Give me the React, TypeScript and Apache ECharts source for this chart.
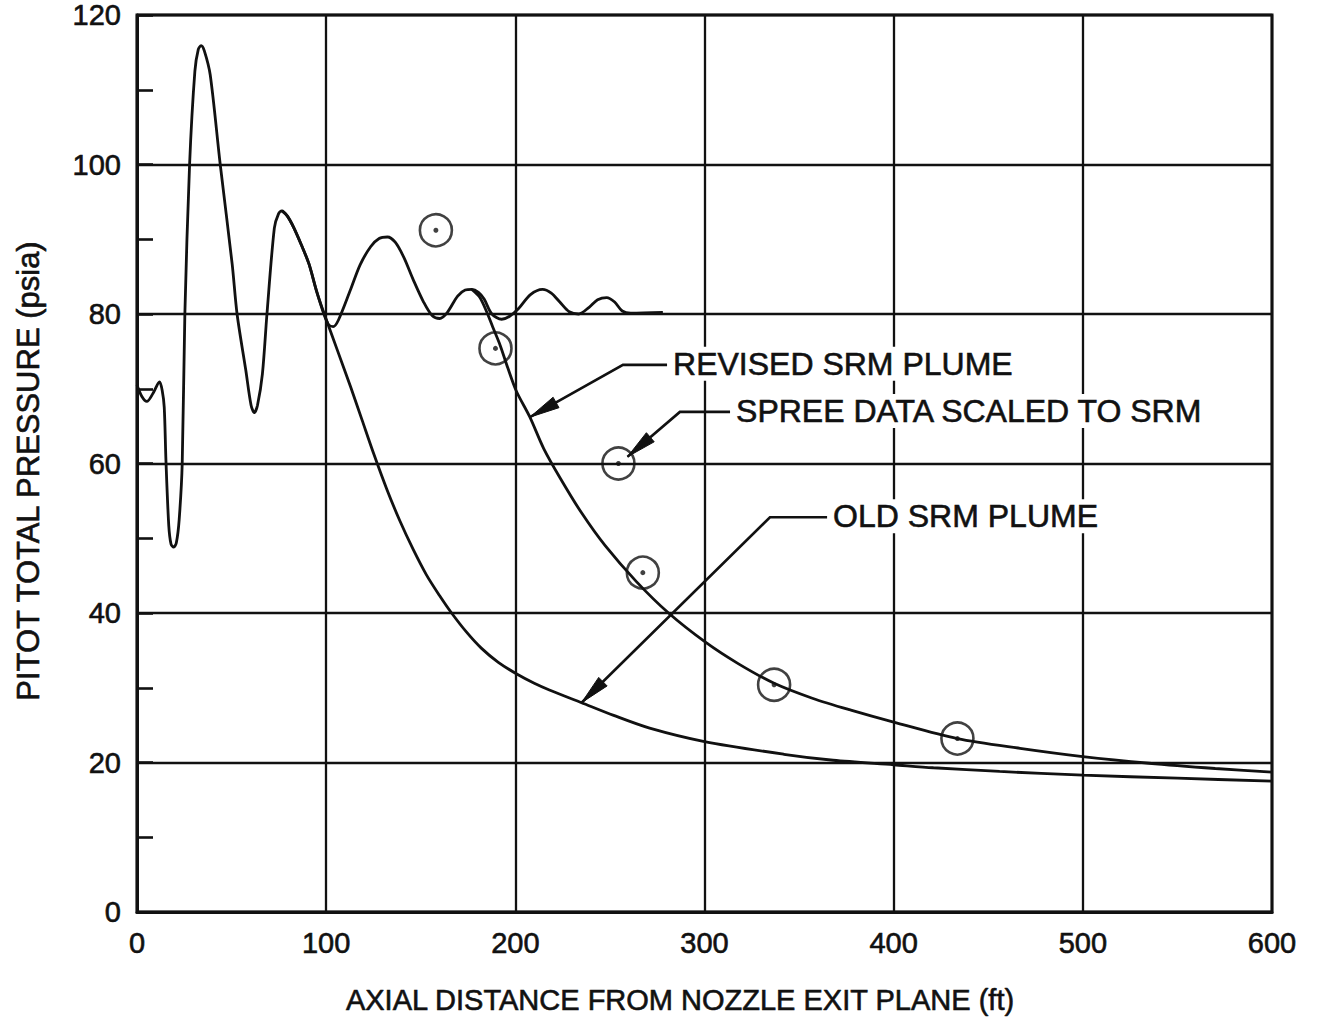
import React, { useEffect, useRef } from "react";
import * as echarts from "echarts";

// ---- Data ----
const X_TICKS = [0, 100, 200, 300, 400, 500, 600];
const Y_TICKS = [0, 20, 40, 60, 80, 100, 120];

const X_TITLE = "AXIAL DISTANCE FROM NOZZLE EXIT PLANE (ft)";
const Y_TITLE = "PITOT TOTAL PRESSURE (psia)";

// near-field oscillating solution (common start, continues wavy to ~280 ft)
const NEAR_FIELD_WAVE: [number, number][] = [
  [0, 70.5], [2.5, 69.0], [5.2, 68.3], [8.5, 69.4], [11.9, 70.9], [13.3, 69.8], [14.4, 67.5],
  [15.3, 60.4], [16.8, 51.7], [18.0, 49.2], [19.4, 48.8], [20.8, 49.4], [22.3, 52.5], [23.9, 60.0],
  [25.3, 80.0], [27.8, 100.0], [30.6, 112.5], [32.4, 115.4], [33.9, 115.9], [35.6, 115.2],
  [38.7, 112.0], [44.0, 100.0], [50.3, 86.7], [52.9, 80.0], [57.5, 72.5], [60.3, 67.8], [62.0, 66.8],
  [63.7, 67.8], [66.3, 72.0], [68.7, 80.0], [72.6, 91.5], [74.8, 93.4], [76.6, 93.8], [79.5, 93.1],
  [82.8, 91.6], [86.8, 89.3], [90.9, 86.7], [95.0, 83.0], [98.8, 80.0], [101.2, 78.6], [103.7, 78.3],
  [106.5, 79.2], [112.8, 83.2], [118.0, 86.6], [123.5, 89.0], [128.0, 90.1], [132.4, 90.3],
  [136.5, 89.6], [141.0, 87.6], [146.0, 84.6], [151.5, 81.6], [156.0, 79.8], [160.0, 79.4],
  [164.0, 80.2], [169.5, 82.4], [173.5, 83.2], [177.0, 83.3], [180.5, 82.9], [183.5, 82.0],
  [187.6, 80.0], [192.8, 79.3], [197.0, 79.7], [201.6, 80.7], [208.0, 82.6], [214.4, 83.3],
  [219.0, 82.8], [223.5, 81.6], [228.5, 80.3], [233.5, 80.0], [239.0, 80.9], [243.5, 81.9],
  [248.3, 82.2], [252.5, 81.6], [256.5, 80.4], [261.0, 80.1], [278.0, 80.2],
];

const OLD_SRM_PLUME: [number, number][] = [
  [76.6, 93.8], [79.5, 93.1], [82.8, 91.6], [86.8, 89.3], [90.9, 86.7], [95.0, 83.0], [99.0, 80.0],
  [106.0, 75.1], [113.0, 70.2], [119.0, 65.8], [125.0, 61.4], [132.0, 56.6], [139.0, 52.3],
  [146.0, 48.5], [153.0, 45.1], [160.0, 42.3], [166.0, 40.1], [174.0, 37.5], [182.0, 35.3],
  [191.0, 33.4], [201.0, 31.8], [210.0, 30.6], [218.0, 29.7], [235.0, 28.0], [252.0, 26.3],
  [271.0, 24.6], [300.0, 22.8], [342.0, 21.1], [368.0, 20.3], [400.0, 19.7], [421.0, 19.3],
  [456.0, 18.8], [500.0, 18.3], [550.0, 17.9], [600.0, 17.5],
];

const REVISED_SRM_PLUME: [number, number][] = [
  [177.0, 83.3], [181.0, 82.3], [184.5, 80.5], [188.0, 78.3], [192.0, 75.8], [196.0, 72.8],
  [200.5, 69.7], [207.7, 66.2], [215.0, 62.0], [223.6, 58.1], [235.0, 53.4], [247.5, 49.0],
  [264.0, 44.2], [281.0, 40.0], [300.5, 36.1], [318.0, 33.2], [336.8, 30.6], [357.0, 28.6],
  [377.4, 27.0], [400.0, 25.4], [433.7, 23.2], [466.8, 21.9], [500.0, 20.8], [535.0, 19.9],
  [570.0, 19.2], [600.0, 18.7],
];

const SPREE_DATA: [number, number][] = [
  [158.0, 91.2], [189.5, 75.4], [254.5, 60.0], [267.4, 45.4], [336.8, 30.4], [433.7, 23.2],
];

// leader annotations (anchor points in data units)
const ANNOTATIONS = [
  { text: "REVISED SRM PLUME", tip: [207.7, 66.2], elbow: [256.9, 73.2], end: [280.2, 73.2] },
  { text: "SPREE DATA SCALED TO SRM", tip: [259.3, 60.9], elbow: [287.0, 66.9], end: [313.5, 66.9] },
  { text: "OLD SRM PLUME", tip: [235.0, 28.0], elbow: [334.6, 52.8], end: [364.8, 52.8] },
];

const FONT = '"Liberation Sans", Arial, Helvetica, sans-serif';
const INK = "#111";

export default function App() {
  const ref = useRef<HTMLDivElement>(null);

  useEffect(() => {
    if (!ref.current) return;
    const chart = echarts.init(ref.current, null, { renderer: "svg" });

    const lineBase = {
      type: "line" as const,
      showSymbol: false,
      smooth: 0.3,
      lineStyle: { color: INK, width: 2.8 },
      itemStyle: { color: INK },
      z: 3,
    };

    const labelStyle = {
      color: INK,
      fontFamily: FONT,
      fontSize: 29,
      margin: 16,
      textBorderColor: INK,
      textBorderWidth: 0.6,
    };

    chart.setOption({
      animation: false,
      backgroundColor: "#fff",
      grid: {
        left: 137,
        right: 45,
        top: 15,
        bottom: 113,
        show: true,
        borderColor: INK,
        borderWidth: 3,
      },
      xAxis: {
        type: "value",
        min: X_TICKS[0],
        max: X_TICKS[X_TICKS.length - 1],
        interval: 100,
        axisLine: { show: true, lineStyle: { color: INK, width: 3 } },
        axisTick: { show: false },
        splitLine: { show: true, lineStyle: { color: INK, width: 2.3 } },
        axisLabel: {
          ...labelStyle,
          formatter: (v: number) => (X_TICKS.includes(v) ? String(v) : ""),
        },
      },
      yAxis: {
        type: "value",
        min: Y_TICKS[0],
        max: Y_TICKS[Y_TICKS.length - 1],
        interval: 20,
        axisLine: { show: true, lineStyle: { color: INK, width: 3 } },
        axisTick: { show: true, inside: true, length: 16, lineStyle: { color: INK, width: 2.6 } },
        minorTick: { show: true, splitNumber: 2, length: 16, lineStyle: { color: INK, width: 2.6 } },
        splitLine: { show: true, lineStyle: { color: INK, width: 2.3 } },
        axisLabel: {
          ...labelStyle,
          formatter: (v: number) => (Y_TICKS.includes(v) ? String(v) : ""),
        },
      },
      series: [
        { ...lineBase, name: "Near-field solution", data: NEAR_FIELD_WAVE },
        { ...lineBase, name: "OLD SRM PLUME", data: OLD_SRM_PLUME },
        { ...lineBase, name: "REVISED SRM PLUME", data: REVISED_SRM_PLUME },
        {
          type: "scatter",
          name: "SPREE DATA SCALED TO SRM",
          data: SPREE_DATA,
          symbol: "circle",
          symbolSize: 32,
          itemStyle: { color: "rgba(255,255,255,0)", borderColor: INK, borderWidth: 2.6 },
          z: 4,
        },
        {
          type: "scatter",
          name: "SPREE DATA SCALED TO SRM (centre)",
          data: SPREE_DATA,
          symbol: "circle",
          symbolSize: 5,
          itemStyle: { color: INK },
          z: 5,
        },
      ],
    });

    // leader lines, arrowheads and texts in data coordinates
    const toPx = (p: number[]) => chart.convertToPixel({ gridIndex: 0 }, p) as number[];
    const graphics: any[] = [];
    ANNOTATIONS.forEach((a) => {
      const t = toPx(a.tip);
      const e = toPx(a.elbow);
      const n = toPx(a.end);
      graphics.push({
        type: "text",
        x: n[0] + 4,
        y: n[1] - 1,
        style: {
          text: a.text,
          font: `32px ${FONT}`,
          fill: INK,
          stroke: INK,
          lineWidth: 0.6,
          backgroundColor: "#fff",
          padding: [1, 2, 1, 2],
          textAlign: "left",
          textVerticalAlign: "middle",
          align: "left",
          verticalAlign: "middle",
        },
        z: 10,
      });
      graphics.push({
        type: "polyline",
        shape: { points: [t, e, n] },
        style: { stroke: INK, lineWidth: 2.6, fill: null },
        z: 11,
      });
      const dx = t[0] - e[0];
      const dy = t[1] - e[1];
      const len = Math.hypot(dx, dy) || 1;
      const ux = dx / len;
      const uy = dy / len;
      const L = 30;
      const W = 6;
      const bx = t[0] - ux * L;
      const by = t[1] - uy * L;
      graphics.push({
        type: "polygon",
        shape: {
          points: [
            [t[0], t[1]],
            [bx - uy * W, by + ux * W],
            [bx + uy * W, by - ux * W],
          ],
        },
        style: { fill: INK, stroke: INK, lineWidth: 1 },
        z: 11,
      });
    });

    graphics.push({
      type: "text",
      x: 680,
      y: 1000,
      style: {
        text: X_TITLE,
        font: `29px ${FONT}`,
        fill: INK,
        stroke: INK,
        lineWidth: 0.6,
        textAlign: "center",
        textVerticalAlign: "middle",
        align: "center",
        verticalAlign: "middle",
      },
    });
    graphics.push({
      type: "text",
      x: 28,
      y: 471,
      rotation: Math.PI / 2,
      style: {
        text: Y_TITLE,
        font: `31px ${FONT}`,
        fill: INK,
        stroke: INK,
        lineWidth: 0.6,
        textAlign: "center",
        textVerticalAlign: "middle",
        align: "center",
        verticalAlign: "middle",
      },
    });

    chart.setOption({ graphic: graphics });

    return () => {
      chart.dispose();
    };
  }, []);

  return (
    <div
      ref={ref}
      style={{ position: "fixed", left: 0, top: 0, width: 1317, height: 1025, background: "#fff" }}
    />
  );
}
